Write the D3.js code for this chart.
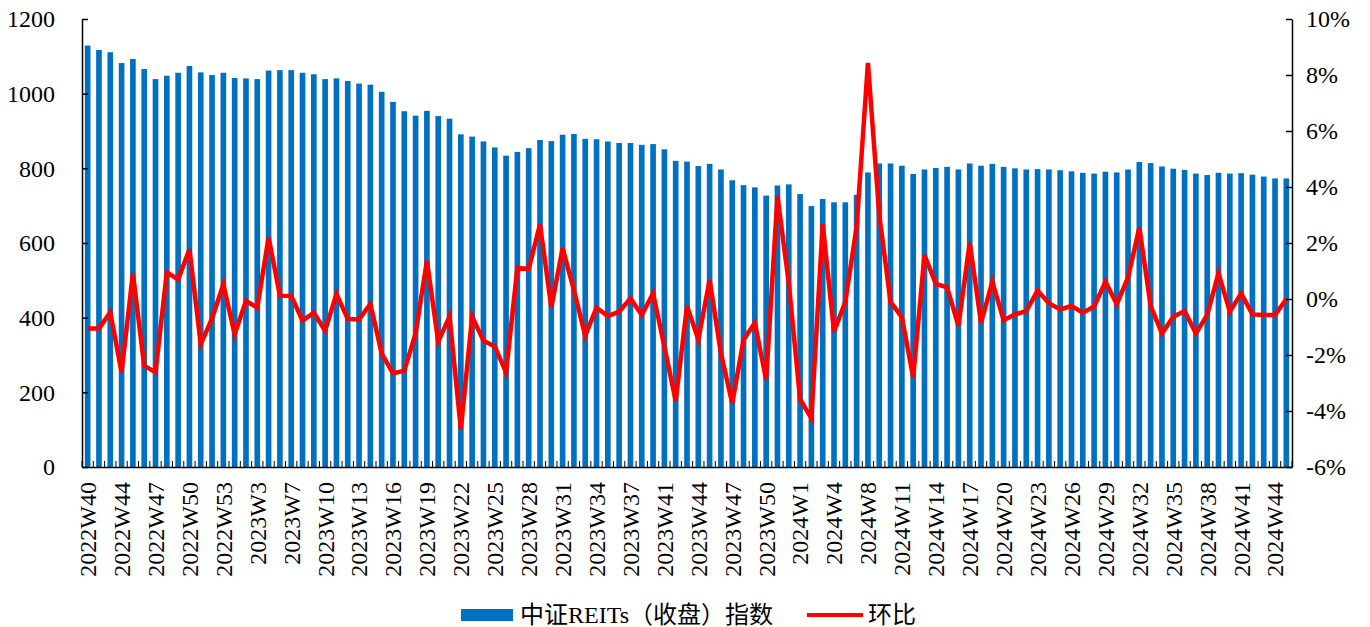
<!DOCTYPE html>
<html lang="zh">
<head>
<meta charset="UTF-8">
<title>REITs</title>
<script src="https://d3js.org/d3.v7.min.js"></script>
<style>
    body { margin: 0; background: #fff; }
    text { font-family: "Liberation Serif", "Noto Sans CJK SC", serif; fill: #000; }
</style>
</head>
<body>
<script>
// week labels
var weeks = [
    "2022W40","2022W42","2022W43","2022W44","2022W45","2022W46","2022W47","2022W48","2022W49","2022W50","2022W51","2022W52","2022W53",
    "2023W1","2023W2","2023W3","2023W5","2023W6","2023W7","2023W8","2023W9","2023W10","2023W11","2023W12","2023W13","2023W14","2023W15",
    "2023W16","2023W17","2023W18","2023W19","2023W20","2023W21","2023W22","2023W23","2023W24","2023W25","2023W26","2023W27","2023W28",
    "2023W29","2023W30","2023W31","2023W32","2023W33","2023W34","2023W35","2023W36","2023W37","2023W38","2023W39","2023W41","2023W42",
    "2023W43","2023W44","2023W45","2023W46","2023W47","2023W48","2023W49","2023W50","2023W51","2023W52",
    "2024W1","2024W2","2024W3","2024W4","2024W5","2024W7","2024W8","2024W9","2024W10","2024W11","2024W12","2024W13","2024W14","2024W15",
    "2024W16","2024W17","2024W18","2024W19","2024W20","2024W21","2024W22","2024W23","2024W24","2024W25","2024W26","2024W27","2024W28",
    "2024W29","2024W30","2024W31","2024W32","2024W33","2024W34","2024W35","2024W36","2024W37","2024W38","2024W39","2024W40","2024W41",
    "2024W42","2024W43","2024W44","2024W45"
];

// 中证REITs（收盘）指数
var closeIdx = [
    1129,1117,1111,1082,1093,1066,1039,1048,1056,1074,1057,1050,1056,1042,1041,1039,1062,1063,1063,1056,
    1052,1039,1041,1034,1027,1024,1005,978,953,941,954,940,933,891,885,872,856,834,844,854,
    876,873,890,892,879,878,872,868,868,863,865,851,820,818,806,812,797,768,755,749,
    727,754,757,731,699,718,709,709,729,789,813,813,807,785,797,801,804,797,813,807,
    812,804,800,797,798,797,795,792,788,786,791,789,797,817,814,805,799,796,786,782,
    788,786,787,783,778,773,773
];

// 环比 (%)
var wow = [
    -1.05,-1.05,-0.48,-2.62,0.92,-2.38,-2.62,0.95,0.70,1.77,-1.61,-0.69,0.52,-1.26,-0.07,-0.31,2.20,0.12,0.11,-0.77,
    -0.49,-1.13,0.18,-0.71,-0.73,-0.18,-1.94,-2.66,-2.56,-1.23,1.36,-1.52,-0.63,-4.65,-0.63,-1.49,-1.70,-2.62,1.12,1.07,
    2.67,-0.30,1.81,0.32,-1.31,-0.31,-0.61,-0.45,0.02,-0.57,0.20,-1.70,-3.64,-0.25,-1.45,0.68,-1.94,-3.73,-1.46,-0.85,
    -2.89,3.68,0.56,-3.58,-4.26,2.67,-1.17,-0.10,2.58,8.43,3.0,-0.10,-0.65,-2.80,1.57,0.54,0.42,-0.96,2.01,-0.85,
    0.62,-0.76,-0.55,-0.43,0.30,-0.15,-0.37,-0.25,-0.49,-0.27,0.62,-0.18,0.77,2.55,-0.25,-1.23,-0.63,-0.43,-1.23,-0.57,
    0.92,-0.45,0.20,-0.55,-0.57,-0.57,0.0
];

var leftTicks = [0, 200, 400, 600, 800, 1000, 1200];
var rightTicks = [-6, -4, -2, 0, 2, 4, 6, 8, 10];

var W = 1370, H = 627;
var m = { left: 82, right: 78, top: 19, bottom: 160 };
var pw = W - m.left - m.right, ph = H - m.top - m.bottom;

var svg = d3.select("body").append("svg")
    .attr("width", W).attr("height", H);
var g = svg.append("g").attr("transform", "translate(" + m.left + "," + m.top + ")");

var x = d3.scaleBand().domain(weeks).range([0, pw]).paddingInner(0.5).paddingOuter(0.25);
var yL = d3.scaleLinear().domain([0, 1200]).range([ph, 0]);
var yR = d3.scaleLinear().domain([-6, 10]).range([ph, 0]);

// bars
g.selectAll("rect.bar")
    .data(closeIdx)
    .enter().append("rect")
    .attr("class", "bar")
    .attr("x", function (d, i) { return x(weeks[i]); })
    .attr("y", function (d) { return yL(d); })
    .attr("width", x.bandwidth())
    .attr("height", function (d) { return ph - yL(d); })
    .attr("fill", "#0070C0");

// line
var line = d3.line()
    .x(function (d, i) { return x(weeks[i]) + x.bandwidth() / 2; })
    .y(function (d) { return yR(d); });

g.append("path")
    .datum(wow)
    .attr("d", line)
    .attr("fill", "none")
    .attr("stroke", "#FF0000")
    .attr("stroke-width", 4.5)
    .attr("stroke-linejoin", "miter");

// left axis
var axL = g.append("g")
    .call(d3.axisLeft(yL).tickValues(leftTicks).tickSizeInner(-6).tickSizeOuter(0).tickPadding(27)
        .tickFormat(d3.format("d")));
axL.select(".domain").attr("stroke", "#000").attr("stroke-width", 1.5);
axL.selectAll(".tick line").attr("stroke", "#000").attr("stroke-width", 1.5);
axL.selectAll("text").style("font-size", "24px");

// right axis
var axR = g.append("g")
    .attr("transform", "translate(" + pw + ",0)")
    .call(d3.axisRight(yR).tickValues(rightTicks).tickSizeInner(-6).tickSizeOuter(0).tickPadding(14)
        .tickFormat(function (d) { return d + "%"; }));
axR.select(".domain").attr("stroke", "#000").attr("stroke-width", 1.5);
axR.selectAll(".tick line").attr("stroke", "#000").attr("stroke-width", 1.5);
axR.selectAll("text").style("font-size", "24px");

// bottom axis
var axB = g.append("g")
    .attr("transform", "translate(0," + ph + ")")
    .call(d3.axisBottom(x).tickSize(0).tickPadding(0));
axB.select(".domain").attr("stroke", "#000").attr("stroke-width", 1.5);
axB.selectAll(".tick text")
    .style("font-size", "24px")
    .style("display", function (d, i) { return i % 3 === 0 ? null : "none"; })
    .attr("text-anchor", "end")
    .attr("dy", "0.35em")
    .attr("transform", "translate(0,15) rotate(-90)");

// category boundary ticks
g.append("g").selectAll("line")
    .data(d3.range(weeks.length + 1))
    .enter().append("line")
    .attr("x1", function (i) { return i * x.step(); })
    .attr("x2", function (i) { return i * x.step(); })
    .attr("y1", ph).attr("y2", ph - 6)
    .attr("stroke", "#000").attr("stroke-width", 1);

// legend
var lg = svg.append("g").attr("transform", "translate(461,615)");
lg.append("rect").attr("x", 0).attr("y", -6).attr("width", 52).attr("height", 12).attr("fill", "#0070C0");
lg.append("text").attr("x", 59).attr("y", 0).attr("dy", "0.35em").style("font-size", "24px").text("中证REITs（收盘）指数");
lg.append("line").attr("x1", 346).attr("x2", 402).attr("y1", 0).attr("y2", 0)
    .attr("stroke", "#FF0000").attr("stroke-width", 4);
lg.append("text").attr("x", 407).attr("y", 0).attr("dy", "0.35em").style("font-size", "24px").text("环比");
</script>
</body>
</html>
